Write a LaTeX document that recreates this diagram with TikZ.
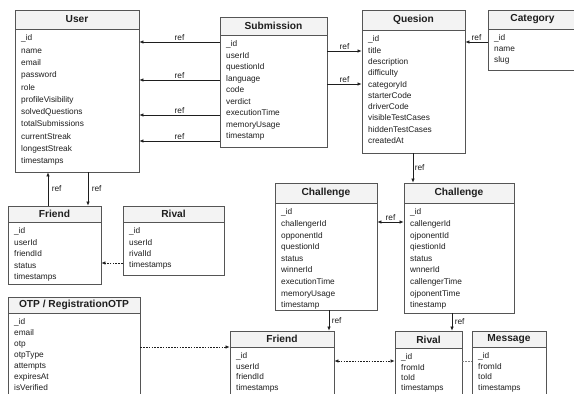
\documentclass[tikz,border=0pt]{standalone}
\usepackage{fontspec}
\setmainfont{Liberation Sans}
\usetikzlibrary{arrows.meta,fit}
\definecolor{boxc}{HTML}{555555}
\definecolor{hdrc}{HTML}{F3F3F3}
\definecolor{txtc}{HTML}{1E1E1E}
\tikzset{
  entbox/.style={draw=boxc,line width=0.8pt,inner sep=0pt},
  ttl/.style={font=\fontsize{10.2}{12}\selectfont\bfseries,text=txtc,inner sep=0pt},
  fld/.style={font=\fontsize{8.3}{10}\selectfont,text=txtc,inner sep=0pt,anchor=base west},
  lbl/.style={font=\fontsize{8.3}{10}\selectfont,text=txtc,inner sep=1.5pt},
  conn/.style={draw=txtc,line width=0.7pt},
  arr/.style={conn,-{Latex[length=4pt,width=3.6pt]}},
  darr/.style={conn,{Latex[length=4pt,width=3.6pt]}-{Latex[length=4pt,width=3.6pt]}},
  dsh/.style={dash pattern=on 1.6pt off 1.2pt}
}
% #1 name #2 x1 #3 y1 #4 x2 #5 y2 #6 header bottom #7 title #8 fields #9 spacing
\newcommand\entity[9]{%
  \fill[hdrc] (#2,#3) rectangle (#4,#6);
  \draw[boxc,line width=0.8pt] (#2,#6) -- (#4,#6);
  \path (#2,#3) coordinate (#1-nw) (#4,#5) coordinate (#1-se);
  \node[entbox,fit=(#1-nw)(#1-se)] (#1) {};
  \node[ttl] (#1-t) at ({(#2+#4)/2},{(#3+#6)/2}) {#7};
  \foreach \f [count=\i from 0] in {#8}
    \node[fld] at ({#2+6},{#6+11.8+\i*#9}) {\f};
}
\begin{document}
\begin{tikzpicture}[x=1pt,y=-1pt]
\useasboundingbox[fill=white] (0,0) rectangle (574,394);

\entity{user}{15}{10}{139}{172}{29}{User}{\_id,name,email,password,role,profileVisibility,solvedQuestions,totalSubmissions,currentStreak,longestStreak,timestamps}{12.3}
\entity{sub}{220}{17}{327}{147}{35}{Submission}{\_id,userId,questionId,language,code,verdict,executionTime,memoryUsage,timestamp}{11.5}
\entity{q}{362}{10}{465}{153}{30}{Quesion}{\_id,title,description,difficulty,categoryId,starterCode,driverCode,visibleTestCases,hiddenTestCases,createdAt}{11.3}
\entity{cat}{488}{10}{577}{70}{29}{Category}{\_id,name,slug}{11}
\entity{fr1}{8}{206}{101}{284}{222}{Friend}{\_id,userId,friendId,status,timestamps}{11.5}
\entity{rv1}{123}{206}{224}{275}{222}{Rival}{\_id,userId,rivalId,timestamps}{11.3}
\entity{ch1}{275}{183}{377}{310}{203}{Challenge}{\_id,challengerId,opponentId,questionId,status,winnerId,executionTime,memoryUsage,timestamp}{11.6}
\entity{ch2}{404}{183}{514}{313}{203}{Challenge}{\_id,callengerId,ojponentId,qiestionId,status,wnnerId,callengerTime,ojponentTime,tinestamp}{11.6}
\entity{otp}{8}{297}{140}{399}{313}{OTP / RegistrationOTP}{\_id,email,otp,otpType,attempts,expiresAt,isVerified}{11}
\entity{fr2}{230}{331}{334}{399}{347}{Friend}{\_id,userId,friendId,timestamps}{10.5}
\entity{rv2}{395}{331}{462}{399}{348}{Rival}{\_id,fromId,toId,timestamps}{10.3}
\entity{msg}{472}{331}{546}{399}{347}{Message}{\_id,fromId,toId,timestamps}{10.5}

% Submission -> User
\foreach \yy in {42,80,115,141}
  \draw[arr] (sub.west |- 0,\yy) -- (user.east |- 0,\yy) node[midway,above,lbl]{ref};
% Submission -> Question
\foreach \yy in {51,84}
  \draw[arr] (sub.east |- 0,\yy) -- (q.west |- 0,\yy) node[midway,above,lbl]{ref};
% Category -> Question
\draw[arr] (cat.west |- 0,42) -- (q.east |- 0,42) node[midway,above,lbl]{ref};
% Question -> Challenge
\draw[arr] (q.south -| 413,0) -- (ch2.north -| 413,0) node[midway,right,lbl]{ref};
% Friend <-> User
\draw[arr] (fr1.north -| 48,0) -- (user.south -| 48,0) node[midway,right,lbl,xshift=2pt]{ref};
\draw[arr] (user.south -| 88,0) -- (fr1.north -| 88,0) node[midway,right,lbl,xshift=2pt]{ref};
% Rival -> Friend
\draw[arr,dsh] (rv1.west |- 0,263) -- (fr1.east |- 0,263);
% Challenge <-> Challenge
\draw[darr] (ch1.east |- 0,222) -- (ch2.west |- 0,222) node[midway,above,lbl]{ref};
% Challenges -> Friend / Rival
\draw[arr] (ch1.south -| 329,0) -- (fr2.north -| 329,0) node[midway,right,lbl,xshift=1pt]{ref};
\draw[arr] (ch2.south -| 452,0) -- (rv2.north -| 452,0) node[midway,right,lbl,xshift=1pt]{ref};
% OTP -> Friend
\draw[arr,dsh] (otp.east |- 0,347) -- (fr2.west |- 0,347);
% Friend <-> Rival, Rival -- Message
\draw[darr,dsh] (fr2.east |- 0,361) -- (rv2.west |- 0,361);
\draw[conn,dsh,line width=0.5pt,draw=gray] (rv2.east |- 0,361) -- (msg.west |- 0,361);
\end{tikzpicture}
\end{document}
